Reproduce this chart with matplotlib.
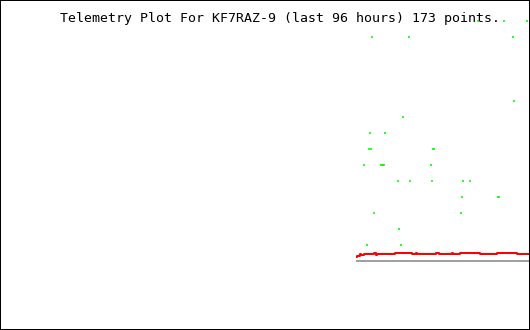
import matplotlib
matplotlib.use("Agg")
import matplotlib.pyplot as plt
from matplotlib.patches import Rectangle

# ---- data (hours relative to now, values in plot units) ----
title = "Telemetry Plot For KF7RAZ-9 (last 96 hours) 173 points."

red_hours = [-31.52, -31.28, -30.79, -30.61, -30.07, -28.20, -27.90, -27.71, -24.45,
             -21.43, -20.65, -20.47, -17.03, -16.48, -14.13, -13.90, -12.68, -9.06,
             -5.98, -2.36, 0.0]
red_values = [0.25, 0.31, 0.44, 0.375, 0.44, 0.5, 0.375, 0.44, 0.5,
              0.44, 0.5, 0.44, 0.5, 0.44, 0.5, 0.44, 0.5, 0.44,
              0.5, 0.44, 0.44]

green_hours = [-28.62, -21.92, -3.08, -2.90, -23.00, -28.98, -26.26, -29.16, -28.80,
               -17.57, -17.39, -30.07, -26.99, -26.81, -26.63, -26.45, -17.93,
               -23.91, -21.74, -17.75, -12.14, -10.87, -12.32, -5.80, -5.62,
               -28.26, -12.50, -23.73, -29.52, -23.37, -9.42, -4.71, -0.54]
green_values = [14, 14, 14, 10, 9, 8, 8, 7, 7,
                7, 7, 6, 6, 6, 6, 6, 6,
                5, 5, 5, 5, 5, 4, 4, 4,
                3, 3, 2, 1, 1, 15, 15, 15]

base_hours = [-31.52, 0.0]
base_values = [0, 0]

# ---- figure ----
W, H, DPI = 530, 330, 100
PX = 72.0 / DPI
fig = plt.figure(figsize=(W / DPI, H / DPI), dpi=DPI, facecolor="white")
ax = fig.add_axes([0, 0, 1, 1])
ax.set_facecolor("white")
for s in ax.spines.values():
    s.set_visible(False)
ax.set_xticks([])
ax.set_yticks([])

# level 0 at pixel row 261 from top, 16 px per unit
ZERO = 261.0
ax.set_xlim(-96, 0)
ax.set_ylim(-(H - ZERO) / 16.0, ZERO / 16.0)

ax.plot(base_hours, base_values, color="#a0a0a0", lw=2 * PX, solid_capstyle="butt")
ax.plot(red_hours, red_values, color="#ff0000", lw=2 * PX, drawstyle="steps-post",
        solid_capstyle="butt")
ax.plot(green_hours, green_values, linestyle="none", marker="|", color="#00ff00",
        markersize=2.4 * PX, markeredgewidth=1.6 * PX)

fig.text(60 / W, 1 - 21.7 / H, title, family="DejaVu Sans Mono", fontsize=9.5,
         color="black", va="baseline", ha="left")

fig.patches.append(Rectangle((0, 0), 1, 1, transform=fig.transFigure, fill=False,
                             edgecolor="black", lw=2 * PX))

fig.savefig("out.png", dpi=DPI, facecolor="white")
